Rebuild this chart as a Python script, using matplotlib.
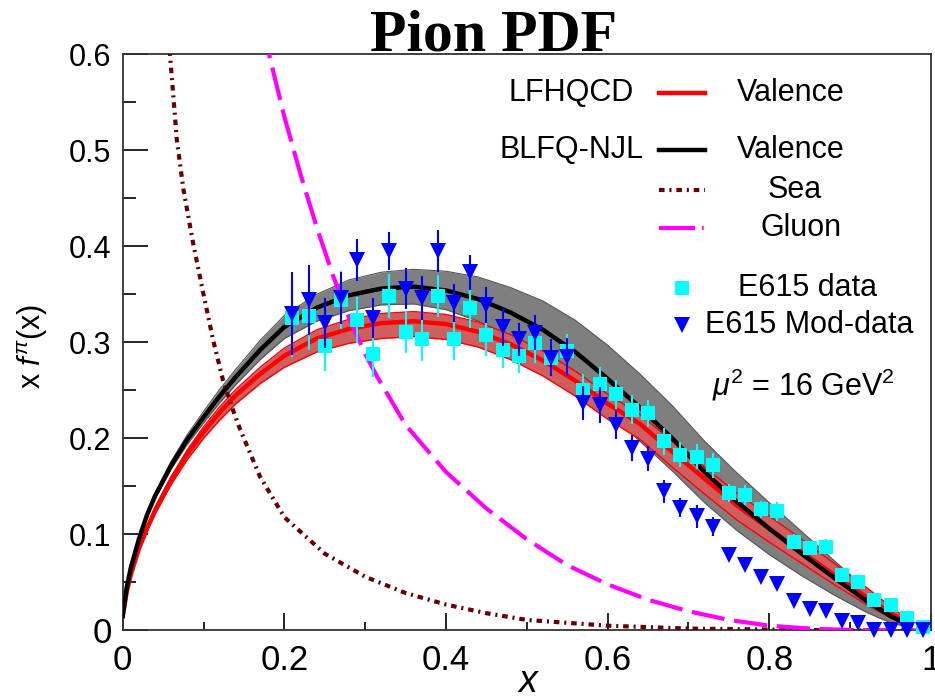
import matplotlib
matplotlib.use('Agg')
import matplotlib.pyplot as plt
from matplotlib.ticker import MultipleLocator
from matplotlib.lines import Line2D

plt.rcParams['font.family'] = ['Liberation Sans', 'DejaVu Sans']
plt.rcParams['mathtext.fontset'] = 'custom'
plt.rcParams['mathtext.rm'] = 'Liberation Sans'
plt.rcParams['mathtext.it'] = 'Liberation Sans:italic'
plt.rcParams['lines.scale_dashes'] = False
plt.rcParams['lines.solid_joinstyle'] = 'round'

# ---- curves ----
xg = [0.0, 0.005, 0.01, 0.02, 0.03, 0.04, 0.06, 0.08, 0.10, 0.12, 0.14, 0.17, 0.20,
      0.24, 0.28, 0.32, 0.36, 0.40, 0.44, 0.48, 0.52, 0.56, 0.60, 0.64, 0.68, 0.72,
      0.76, 0.80, 0.84, 0.88, 0.92, 0.95, 0.975]

blfq_val = [0.015, 0.045, 0.065, 0.095, 0.12, 0.14, 0.172, 0.199, 0.222, 0.244, 0.264,
            0.292, 0.316, 0.336, 0.349, 0.356, 0.358, 0.354, 0.345, 0.331, 0.313, 0.29,
            0.262, 0.232, 0.2, 0.165, 0.134, 0.106, 0.08, 0.055, 0.031, 0.015, 0.005]
blfq_hi = [0.015, 0.046, 0.066, 0.097, 0.122, 0.143, 0.176, 0.204, 0.228, 0.251, 0.272,
           0.302, 0.328, 0.35, 0.365, 0.373, 0.376, 0.374, 0.368, 0.357, 0.343, 0.323,
           0.297, 0.267, 0.234, 0.197, 0.164, 0.133, 0.103, 0.073, 0.043, 0.022, 0.007]
blfq_lo = [0.015, 0.044, 0.064, 0.093, 0.118, 0.137, 0.168, 0.194, 0.216, 0.237, 0.256,
           0.282, 0.304, 0.322, 0.333, 0.339, 0.34, 0.334, 0.322, 0.305, 0.283, 0.257,
           0.227, 0.197, 0.166, 0.133, 0.104, 0.079, 0.057, 0.037, 0.019, 0.008, 0.003]

lf_val = [0.015, 0.04, 0.058, 0.085, 0.106, 0.125, 0.157, 0.184, 0.207, 0.227, 0.245,
          0.267, 0.286, 0.304, 0.314, 0.32, 0.322, 0.319, 0.311, 0.298, 0.281, 0.26,
          0.236, 0.215, 0.186, 0.158, 0.13, 0.106, 0.082, 0.058, 0.035, 0.018, 0.006]
lf_hi = [0.015, 0.041, 0.059, 0.087, 0.108, 0.128, 0.16, 0.188, 0.212, 0.233, 0.251,
         0.274, 0.294, 0.313, 0.324, 0.33, 0.332, 0.329, 0.321, 0.308, 0.291, 0.27,
         0.246, 0.225, 0.197, 0.17, 0.143, 0.119, 0.095, 0.07, 0.045, 0.025, 0.009]
lf_lo = [0.015, 0.039, 0.057, 0.083, 0.103, 0.121, 0.152, 0.178, 0.2, 0.219, 0.236,
         0.257, 0.274, 0.29, 0.299, 0.304, 0.306, 0.303, 0.295, 0.282, 0.265, 0.244,
         0.22, 0.199, 0.17, 0.142, 0.115, 0.092, 0.07, 0.048, 0.027, 0.013, 0.004]

sea_x = [0.055, 0.0585, 0.067, 0.075, 0.087, 0.1, 0.112, 0.124, 0.135, 0.145, 0.17, 0.2,
         0.25, 0.3, 0.35, 0.4, 0.45, 0.5, 0.6, 0.7, 0.8, 0.9, 1.0]
sea_y = [0.64, 0.6, 0.511, 0.46, 0.404, 0.35, 0.302, 0.261, 0.233, 0.21, 0.16, 0.118,
         0.08, 0.056, 0.039, 0.027, 0.018, 0.011, 0.005, 0.002, 0.001, 0.0, 0.0]

glu_x = [0.175, 0.181, 0.2, 0.22, 0.24, 0.26, 0.28, 0.3, 0.315, 0.35, 0.4, 0.45, 0.5,
         0.55, 0.6, 0.65, 0.7, 0.75, 0.8, 0.85, 0.9, 1.0]
glu_y = [0.63, 0.6, 0.535, 0.475, 0.42, 0.37, 0.326, 0.288, 0.264, 0.214, 0.165, 0.127,
         0.095, 0.068, 0.048, 0.032, 0.02, 0.011, 0.005, 0.002, 0.0005, 0.0]

# ---- E615 data ----
e615_x = [0.21, 0.23, 0.25, 0.27, 0.29, 0.31, 0.33, 0.35, 0.37, 0.39, 0.41, 0.43, 0.45,
          0.47, 0.49, 0.51, 0.53, 0.55, 0.57, 0.59, 0.61, 0.63, 0.65, 0.67, 0.69, 0.71,
          0.73, 0.75, 0.77, 0.79, 0.81, 0.83, 0.85, 0.87, 0.89, 0.91, 0.93, 0.95, 0.97,
          0.99]
e615_y = [0.325, 0.327, 0.296, 0.344, 0.323, 0.288, 0.348, 0.311, 0.303, 0.348, 0.303,
          0.336, 0.308, 0.292, 0.286, 0.299, 0.284, 0.291, 0.25, 0.257, 0.246, 0.23,
          0.226, 0.197, 0.183, 0.181, 0.172, 0.143, 0.141, 0.126, 0.124, 0.0925, 0.0856,
          0.0873, 0.058, 0.051, 0.032, 0.027, 0.013, 0.004]
e615_err = [0.04, 0.035, 0.026, 0.03, 0.024, 0.024, 0.023, 0.022, 0.022, 0.022, 0.021,
            0.021, 0.022, 0.019, 0.018, 0.02, 0.018, 0.018, 0.017, 0.017, 0.015, 0.015,
            0.014, 0.014, 0.013, 0.013, 0.013, 0.009, 0.01, 0.009, 0.01, 0.008, 0.006,
            0.008, 0.004, 0.004, 0.003, 0.003, 0.002, 0.002]

mod_x = e615_x
mod_y = [0.33, 0.344, 0.32, 0.346, 0.386, 0.325, 0.395, 0.356, 0.346, 0.395, 0.341,
         0.373, 0.339, 0.316, 0.303, 0.31, 0.284, 0.285, 0.237, 0.235, 0.214, 0.19,
         0.179, 0.145, 0.128, 0.119, 0.108, 0.079, 0.068, 0.056, 0.048, 0.031, 0.022,
         0.02, 0.01, 0.008, 0.0, 0.0, 0.0, 0.0]
mod_err = [0.043, 0.036, 0.026, 0.027, 0.022, 0.021, 0.02, 0.021, 0.023, 0.022, 0.02,
           0.018, 0.019, 0.02, 0.017, 0.018, 0.019, 0.02, 0.018, 0.019, 0.015, 0.014,
           0.013, 0.012, 0.01, 0.012, 0.01, 0.003, 0.003, 0.002, 0.002, 0.002, 0.002,
           0.002, 0.001, 0.001, 0.001, 0.001, 0.001, 0.001]

fig = plt.figure(figsize=(9.35, 6.99), dpi=100)
ax = fig.add_axes([0.1312, 0.098, 0.8645, 0.8245])

# bands
ax.fill_between(xg, blfq_lo, blfq_hi, color='#7f7f7f', lw=0, zorder=1)
ax.plot(xg, blfq_hi, color='#555555', lw=0.8, zorder=1.1)
ax.plot(xg, blfq_lo, color='#555555', lw=0.8, zorder=1.1)
ax.fill_between(xg, lf_lo, lf_hi, color='#cf5f5f', lw=0, zorder=2)
ax.plot(xg, lf_hi, color='red', lw=1, zorder=2.1)
ax.plot(xg, lf_lo, color='red', lw=1, zorder=2.1)
ax.plot(xg, lf_val, color='red', lw=3.2, zorder=3)
ax.plot(xg, blfq_val, color='black', lw=3.2, zorder=4)

ax.plot(sea_x, sea_y, color='#660000', lw=3, dashes=(4, 3.5, 1.5, 3.5), zorder=5)
ax.plot(glu_x, glu_y, color='#ff00ff', lw=3, dashes=(24, 7), zorder=5)

ax.errorbar(e615_x, e615_y, yerr=e615_err, fmt='s', color='#00ffff', ms=10, mew=0,
            elinewidth=1.5, capsize=3.5, capthick=1.5, zorder=6, clip_on=False)
ax.errorbar(mod_x, mod_y, yerr=mod_err, fmt='v', color='#0000ff', ms=11.5, mew=0,
            elinewidth=1.5, capsize=3.5, capthick=1.5, zorder=7, clip_on=False)

ax.set_xlim(0, 1)
ax.set_ylim(0, 0.6)
for s in ax.spines.values():
    s.set_linewidth(1.3)
    s.set_color('#333333')

ax.xaxis.set_major_locator(MultipleLocator(0.2))
ax.xaxis.set_minor_locator(MultipleLocator(0.1))
ax.yaxis.set_major_locator(MultipleLocator(0.1))
ax.yaxis.set_minor_locator(MultipleLocator(0.05))
ax.tick_params(axis='y', which='major', direction='in', length=18, width=1.2, pad=8,
               labelsize=22)
ax.tick_params(axis='y', which='minor', direction='in', length=9.5, width=1.2)
ax.tick_params(axis='x', which='major', direction='in', length=12, width=1.2, pad=10,
               labelsize=25)
ax.tick_params(axis='x', which='minor', direction='in', length=6, width=1.2)

ax.set_xticks([0, 0.2, 0.4, 0.6, 0.8, 1.0])
ax.set_xticklabels(['0', '0.2', '0.4', '0.6', '0.8', '1'])
ax.set_yticks([0, 0.1, 0.2, 0.3, 0.4, 0.5, 0.6])
ylabs = ax.set_yticklabels(['0', '0.1', '0.2', '0.3', '0.4', '0.5', '0.6'])
ylabs[0].set_fontsize(25)

fig.text(0.528, 0.986, 'Pion PDF', ha='center', va='top', fontsize=43,
         fontweight='bold', family='Liberation Serif')
fig.text(33 / 935, 1 - 346 / 699, r'x $f^{\pi}$(x)', rotation=90, ha='center',
         va='center', fontsize=22)
fig.text(528 / 935, 1 - 682 / 699, 'x', ha='center', va='center', fontsize=27,
         style='italic')

# legend drawn by hand
tr = ax.transAxes
fs = 22
ax.text(0.555, 0.933, 'LFHQCD', transform=tr, ha='center', va='center', fontsize=fs)
ax.text(0.555, 0.834, 'BLFQ-NJL', transform=tr, ha='center', va='center', fontsize=fs)
ax.add_line(Line2D([0.663, 0.721], [0.933, 0.933], transform=tr, color='red', lw=3.2))
ax.add_line(Line2D([0.663, 0.721], [0.834, 0.834], transform=tr, color='black', lw=3.2))
ax.add_line(Line2D([0.663, 0.721], [0.764, 0.764], transform=tr, color='#660000', lw=3,
                   dashes=(4, 3.5, 1.5, 3.5)))
ax.add_line(Line2D([0.663, 0.721], [0.698, 0.698], transform=tr, color='#ff00ff', lw=3,
                   dashes=(26, 5, 1.2, 5)))
ax.text(0.827, 0.933, 'Valence', transform=tr, ha='center', va='center', fontsize=fs)
ax.text(0.827, 0.834, 'Valence', transform=tr, ha='center', va='center', fontsize=fs)
ax.text(0.832, 0.764, 'Sea', transform=tr, ha='center', va='center', fontsize=fs)
ax.text(0.839, 0.698, 'Gluon', transform=tr, ha='center', va='center', fontsize=fs)
ax.add_line(Line2D([0.692], [0.594], transform=tr, marker='s', color='#00ffff', ms=10,
                   mew=0, ls='none'))
ax.add_line(Line2D([0.692], [0.53], transform=tr, marker='v', color='#0000ff', ms=11.5,
                   mew=0, ls='none'))
ax.text(0.761, 0.594, 'E615 data', transform=tr, ha='left', va='center', fontsize=fs)
ax.text(0.72, 0.53, 'E615 Mod-data', transform=tr, ha='left', va='center', fontsize=fs)
ax.text(0.842, 0.426, r'$\mu^2$ = 16 GeV$^2$', transform=tr, ha='center', va='center',
        fontsize=fs)

fig.savefig('out.png', dpi=100)
